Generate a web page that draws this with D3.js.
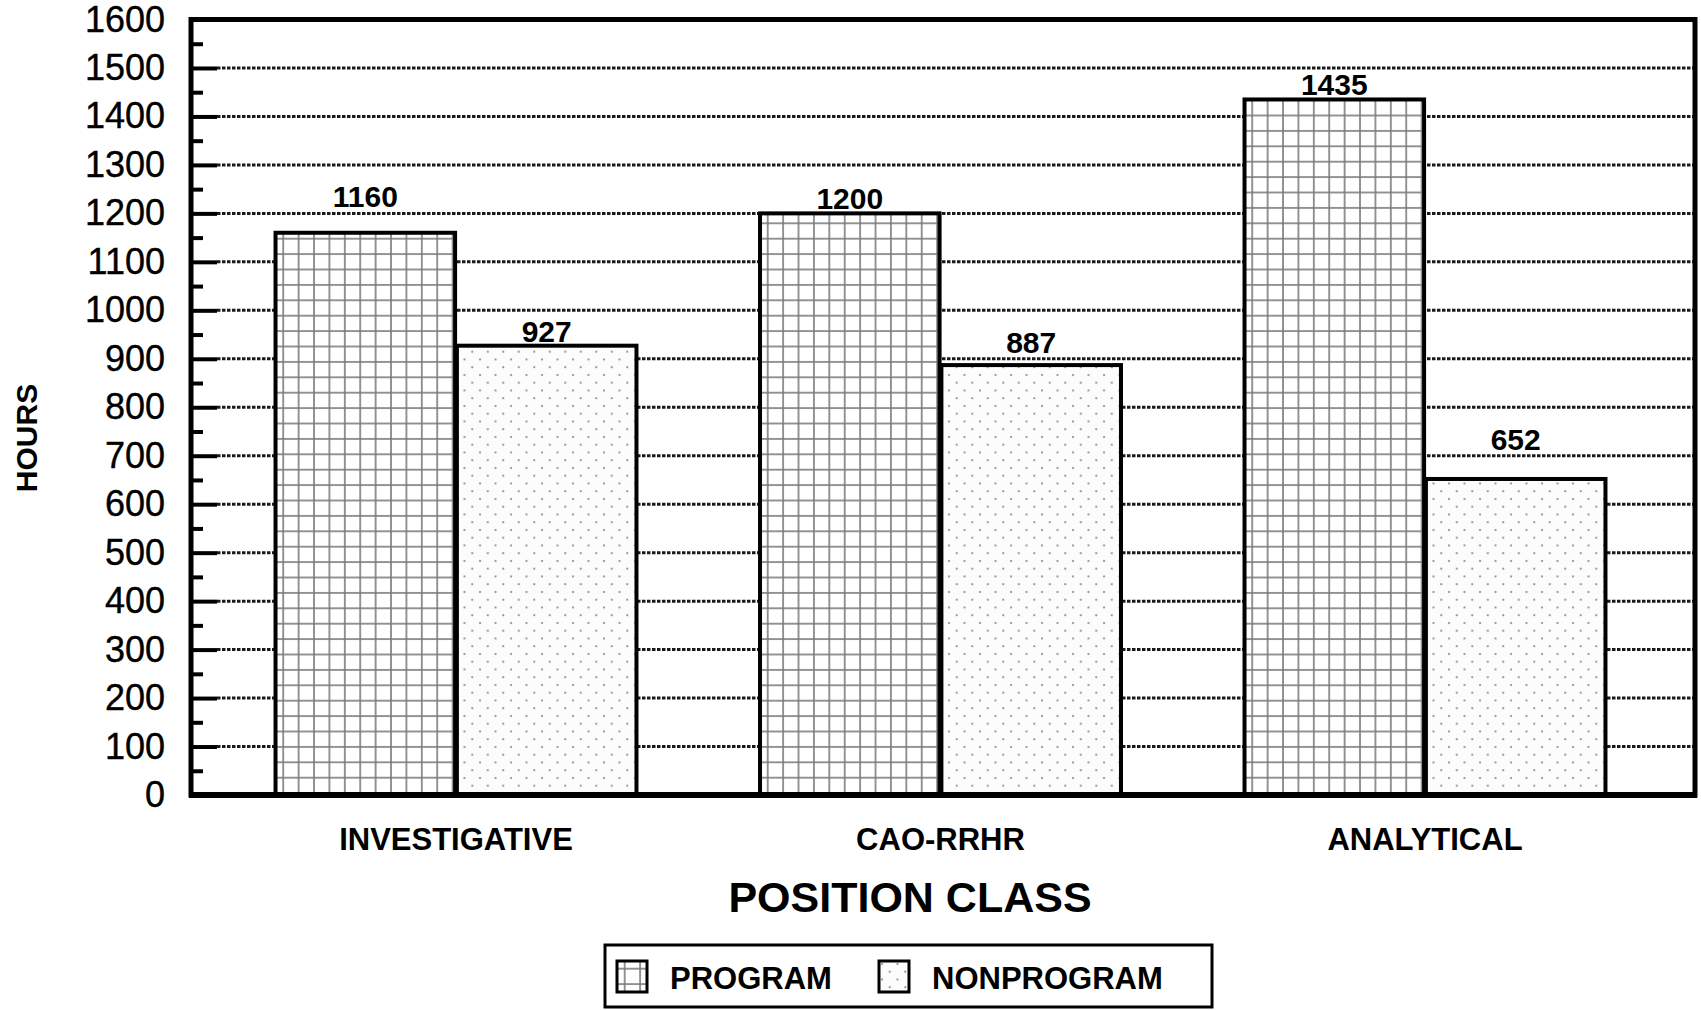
<!DOCTYPE html>
<html>
<head>
<meta charset="utf-8">
<script src="https://cdn.jsdelivr.net/npm/d3@7"></script>
<style>
  body { margin: 0; background: #fff; }
  svg { display: block; font-family: "Liberation Sans", Arial, sans-serif; }
</style>
</head>
<body>
<div id="chart"></div>
<script>
const categories = ["INVESTIGATIVE", "CAO-RRHR", "ANALYTICAL"];
const seriesNames = ["PROGRAM", "NONPROGRAM"];
const programHours = [1160, 1200, 1435];
const nonprogramHours = [927, 887, 652];
const yTicks = d3.range(0, 1601, 100);
const yMinorTicks = d3.range(50, 1600, 100);

const width = 1701;
const height = 1010;

const svg = d3.select("#chart")
  .append("svg")
  .attr("width", width)
  .attr("height", height);

// patterns for the two series
const defs = svg.append("defs");
const grid = defs.append("pattern")
  .attr("id", "pat-program")
  .attr("patternUnits", "userSpaceOnUse")
  .attr("width", 15.4)
  .attr("height", 15.4);
grid.append("rect").attr("width", 15.4).attr("height", 15.4).attr("fill", "#fff");
grid.append("line").attr("x1", 7.7).attr("x2", 7.7).attr("y1", 0).attr("y2", 15.4)
  .attr("stroke", "#7a7a7a").attr("stroke-width", 1.6);
grid.append("line").attr("x1", 0).attr("x2", 15.4).attr("y1", 7.7).attr("y2", 7.7)
  .attr("stroke", "#7a7a7a").attr("stroke-width", 1.6);

const dots = defs.append("pattern")
  .attr("id", "pat-nonprogram")
  .attr("patternUnits", "userSpaceOnUse")
  .attr("width", 15.5)
  .attr("height", 15.5);
dots.append("rect").attr("width", 15.5).attr("height", 15.5).attr("fill", "#fcfcfc");
dots.append("circle").attr("cx", 3).attr("cy", 3).attr("r", 1.1).attr("fill", "#8a8a8a");
dots.append("circle").attr("cx", 10.75).attr("cy", 10.75).attr("r", 1.1).attr("fill", "#8a8a8a");

const fills = { PROGRAM: "url(#pat-program)", NONPROGRAM: "url(#pat-nonprogram)" };

const plot = { left: 191, right: 1695, top: 19.5, bottom: 795 };

const y = d3.scaleLinear().domain([0, 1600]).range([plot.bottom, plot.top]);

const x0 = d3.scaleBand()
  .domain(categories)
  .range([213.75, 1667.25])
  .paddingInner(0.255)
  .paddingOuter(0.1275);

const x1 = d3.scaleBand()
  .domain(seriesNames)
  .range([0, x0.bandwidth()])
  .paddingInner(0.01);

const gridValues = yTicks.filter(d => d > 0 && d < 1600);

// dotted gridlines
svg.append("g")
  .selectAll("line")
  .data(gridValues)
  .enter()
  .append("line")
  .attr("x1", plot.left + 26)
  .attr("x2", plot.right)
  .attr("y1", d => y(d))
  .attr("y2", d => y(d))
  .attr("stroke", "#1a1a1a")
  .attr("stroke-width", 3)
  .attr("stroke-dasharray", "3.5,1.5");

// y axis: major ticks with labels, minor ticks
const yAxis = svg.append("g")
  .attr("transform", `translate(${plot.left},0)`)
  .call(d3.axisLeft(y).tickValues(yTicks).tickSize(-26).tickPadding(26).tickFormat(d3.format("d")));
yAxis.select(".domain").remove();
yAxis.selectAll(".tick line").attr("stroke", "#000").attr("stroke-width", 4);
yAxis.selectAll(".tick text")
  .attr("font-size", 36)
  .attr("fill", "#000")
  .attr("stroke", "#000")
  .attr("stroke-width", 0.4)
  .attr("font-family", "'Liberation Sans', Arial, sans-serif");

const yMinor = svg.append("g")
  .attr("transform", `translate(${plot.left},0)`)
  .call(d3.axisLeft(y).tickValues(yMinorTicks).tickSize(-12).tickFormat(""));
yMinor.select(".domain").remove();
yMinor.selectAll(".tick line").attr("stroke", "#000").attr("stroke-width", 4);

// bars
const rows = categories.map((c, i) => ({
  category: c,
  values: [
    { series: "PROGRAM", value: programHours[i] },
    { series: "NONPROGRAM", value: nonprogramHours[i] }
  ]
}));

const groups = svg.append("g")
  .selectAll("g")
  .data(rows)
  .enter()
  .append("g")
  .attr("transform", d => `translate(${x0(d.category)},0)`);

groups.selectAll("rect")
  .data(d => d.values)
  .enter()
  .append("rect")
  .attr("x", d => x1(d.series))
  .attr("y", d => y(d.value))
  .attr("width", x1.bandwidth())
  .attr("height", d => y(0) - y(d.value))
  .attr("fill", d => fills[d.series])
  .attr("stroke", "#000")
  .attr("stroke-width", 4);

// value labels sit just above the bar, but are lifted above a gridline they would cross
function labelBaseline(v) {
  let base = y(v) - 4;
  const hit = gridValues.find(g => y(g) >= base - 24 && y(g) <= base + 2);
  if (hit !== undefined) base = y(hit) - 6;
  return base;
}

groups.selectAll("text")
  .data(d => d.values)
  .enter()
  .append("text")
  .attr("x", d => x1(d.series) + x1.bandwidth() / 2)
  .attr("y", d => labelBaseline(d.value))
  .attr("text-anchor", "middle")
  .attr("font-size", 30)
  .attr("font-weight", "bold")
  .text(d => d.value);

// frame
svg.append("rect")
  .attr("x", plot.left)
  .attr("y", plot.top)
  .attr("width", plot.right - plot.left)
  .attr("height", plot.bottom - plot.top)
  .attr("fill", "none")
  .attr("stroke", "#000")
  .attr("stroke-width", 5);
svg.append("line")
  .attr("x1", plot.left - 2).attr("x2", plot.right + 2)
  .attr("y1", plot.bottom).attr("y2", plot.bottom)
  .attr("stroke", "#000").attr("stroke-width", 6);

// category labels
svg.append("g")
  .selectAll("text")
  .data(categories)
  .enter()
  .append("text")
  .attr("x", d => x0(d) + x0.bandwidth() / 2)
  .attr("y", 850)
  .attr("text-anchor", "middle")
  .attr("font-size", 31)
  .attr("font-weight", "bold")
  .text(d => d);

// axis titles
svg.append("text")
  .attr("x", 910)
  .attr("y", 912)
  .attr("text-anchor", "middle")
  .attr("font-size", 43)
  .attr("font-weight", "bold")
  .text("POSITION CLASS");

svg.append("text")
  .attr("transform", "translate(37,438) rotate(-90)")
  .attr("text-anchor", "middle")
  .attr("font-size", 30)
  .attr("font-weight", "bold")
  .text("HOURS");

// legend
const legend = svg.append("g");
legend.append("rect")
  .attr("x", 605).attr("y", 945)
  .attr("width", 607).attr("height", 62)
  .attr("fill", "#fff")
  .attr("stroke", "#000")
  .attr("stroke-width", 3);

const legendX = d3.scaleOrdinal().domain(seriesNames).range([617, 879]);
const items = legend.selectAll("g.item")
  .data(seriesNames)
  .enter()
  .append("g")
  .attr("class", "item")
  .attr("transform", d => `translate(${legendX(d)},961)`);
items.append("rect")
  .attr("width", 30).attr("height", 31)
  .attr("fill", d => fills[d])
  .attr("stroke", "#000")
  .attr("stroke-width", 3);
items.append("text")
  .attr("x", 53)
  .attr("y", 28)
  .attr("font-size", 31)
  .attr("font-weight", "bold")
  .text(d => d);
</script>
</body>
</html>
